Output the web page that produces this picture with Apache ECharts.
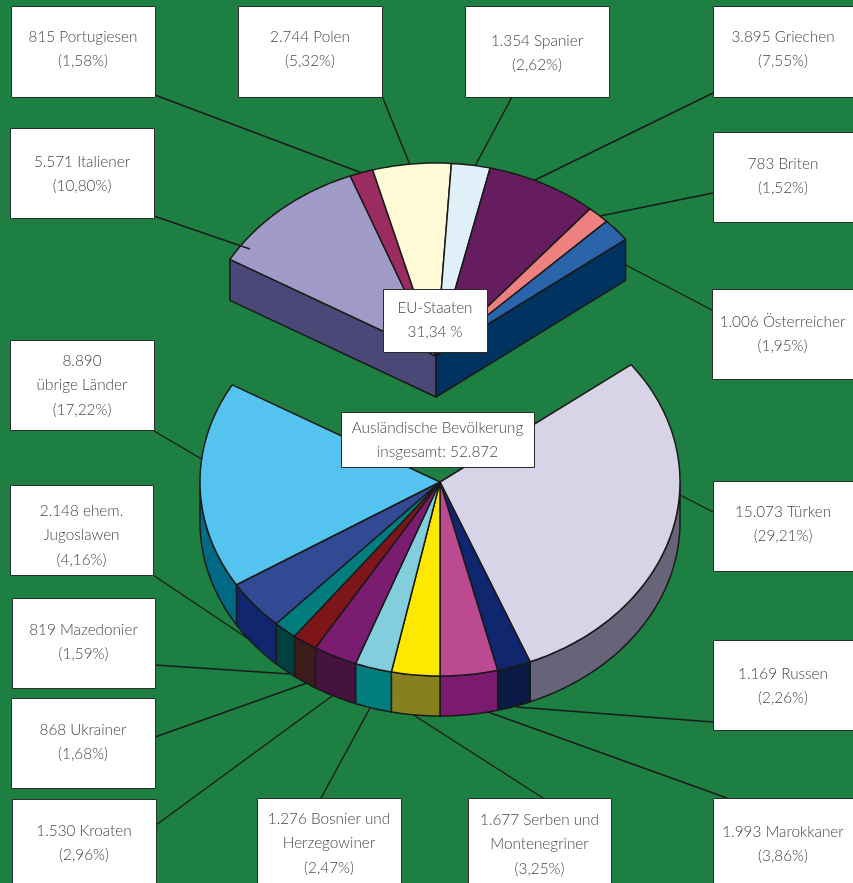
<!DOCTYPE html>
<html><head><meta charset="utf-8">
<style>html,body{margin:0;padding:0;background:#1E7F42}#c{width:853px;height:883px}</style>
<script src="https://cdn.jsdelivr.net/npm/echarts@6/dist/echarts.min.js"></script>
</head><body><div id="c"></div>
<script>
// ---- data ----
const euNames = ['Italiener','Portugiesen','Polen','Spanier','Griechen','Briten','Österreicher'];
const euValues = [5571,815,2744,1354,3895,783,1006];
const euPercents = ['10,80%','1,58%','5,32%','2,62%','7,55%','1,52%','1,95%'];
const restNames = ['Türken','Russen','Marokkaner','Serben und Montenegriner','Bosnier und Herzegowiner','Kroaten','Ukrainer','Mazedonier','ehem. Jugoslawen','übrige Länder'];
const restValues = [15073,1169,1993,1677,1276,1530,868,819,2148,8890];
const restPercents = ['29,21%','2,26%','3,86%','3,25%','2,47%','2,96%','1,68%','1,59%','4,16%','17,22%'];

// ---- label text ----
const euLabels = [
  ['5.571 Italiener','(10,80%)'],['815 Portugiesen','(1,58%)'],['2.744 Polen','(5,32%)'],
  ['1.354 Spanier','(2,62%)'],['3.895 Griechen','(7,55%)'],['783 Briten','(1,52%)'],
  ['1.006 Österreicher','(1,95%)']];
const restLabels = [
  ['15.073 Türken','(29,21%)'],['1.169 Russen','(2,26%)'],['1.993 Marokkaner','(3,86%)'],
  ['1.677 Serben und','Montenegriner','(3,25%)'],['1.276 Bosnier und','Herzegowiner','(2,47%)'],
  ['1.530 Kroaten','(2,96%)'],['868 Ukrainer','(1,68%)'],['819 Mazedonier','(1,59%)'],
  ['2.148 ehem.','Jugoslawen','(4,16%)'],['8.890','übrige Länder','(17,22%)']];
const euCaption = ['EU-Staaten','31,34 %'];
const totalCaption = ['Ausländische Bevölkerung','insgesamt: 52.872'];

// ---- styles ----
const euColors = ['#9F9AC6','#9B2C5F','#FFF9D6','#DFF0F8','#661D5F','#EF8080','#2A64AB'];
const euFlatLeft = '#4B4777', euFlatRight = '#003360';
const restColors = ['#D7D4E8','#10266E','#BB4A91','#FEE800','#82CEDD','#7A1C70','#7E1518','#007D7C','#324A94','#55C3F0'];
const restRims = ['#676378','#0A1A44','#7B1A6F','#878020','#007D7C','#46123F','#3D1C1C','#004040','#10266E','#006A84'];
const edge = '#1a1a1a', bg = '#1E7F42', ink = '#474747';
const FONT = 'Lato, "Noto Sans", sans-serif';

// ---- layout ----
const euPie = {cx:436, cy:356, rx:238, ry:193, depth:41};
const restPie = {cx:440, cy:482, rx:240, ry:194, depth:40};
// [x0,y0,x1,y1, y of first text line, line-end x, line-end y, line-start x, line-start y]
const euBoxes = [
  [10,128,154,218,162, 154,216,250,249],
  [11,6,155,97,37, 155,95,362,173],
  [238,6,382,97,37, 382,96,410,165],
  [465,6,609,97,41, 512,97,475,166],
  [713,6,860,97,37, 713,93,533,181],
  [713,132,860,222,164, 713,193,600,216],
  [712,289,860,379,322, 712,310,620,262]];
const restBoxes = [
  [713,481,860,571,512, 713,512,678,494],
  [713,640,860,730,674, 713,722,516,707],
  [713,798,860,890,832, 727,798,488,712],
  [468,798,611,890,820, 543,798,412,714],
  [257,798,401,890,819, 321,798,370,708],
  [12,799,156,890,831, 156,825,332,696],
  [11,698,155,788,730, 155,737,307,683],
  [12,598,155,688,630, 155,665,290,674],
  [10,485,153,575,511, 153,575,250,640],
  [10,340,154,430,361, 154,431,205,461]];
const euCaptionBox = [383,289,487,352,308];
const totalCaptionBox = [341,412,534,467,428];
const lineGap = 24.3;

// ---- geometry helpers ----
const grand = euValues.concat(restValues).reduce((a,b)=>a+b,0);
const sum = a => a.reduce((x,y)=>x+y,0);
const deg = v => v/grand*360;
// boundary between Marokkaner and Serben points straight down
const restStart = 90 - deg(restValues[0]+restValues[1]+restValues[2]);
const euStart = restStart - deg(sum(euValues));
const pt = (p,a,dy) => [p.cx+p.rx*Math.cos(a*Math.PI/180), p.cy+p.ry*Math.sin(a*Math.PI/180)+(dy||0)];
function arc(p,a0,a1,dy){const n=Math.max(2,Math.ceil(Math.abs(a1-a0)));const r=[];for(let i=0;i<=n;i++)r.push(pt(p,a0+(a1-a0)*i/n,dy));return r;}
const shape = (pts,fill) => ({type:'polygon',shape:{points:pts},style:{fill:fill,stroke:edge,lineWidth:1.5,lineJoin:'round'}});

function renderPie(p,values,start,colors,rims,flats){
  return function(params,api){
    const i=params.dataIndex, before=sum(values.slice(0,i));
    const a0=start+deg(before), a1=a0+deg(values[i]);
    const kids=[];
    if(flats&&i===0){
      const l=pt(p,start), r=pt(p,start+deg(sum(values))), c=[p.cx,p.cy], d=[p.cx,p.cy+p.depth];
      kids.push(shape([l,c,d,[l[0],l[1]+p.depth]],flats[0]));
      kids.push(shape([r,c,d,[r[0],r[1]+p.depth]],flats[1]));
    }
    if(rims){
      const s=Math.max(a0,0), e=Math.min(a1,180);
      if(e>s) kids.push(shape(arc(p,s,e,0).concat(arc(p,e,s,p.depth)),rims[i]));
    }
    kids.push(shape([[p.cx,p.cy]].concat(arc(p,a0,a1,0)),colors[i]));
    return {type:'group',children:kids};
  };
}

// ---- annotation boxes ----
const graphics=[{type:'rect',z:0,shape:{x:0,y:0,width:853,height:883},style:{fill:bg}}];
function addBox(b,lines,name){
  graphics.push({type:'rect',z:10,shape:{x:b[0]+.5,y:b[1]+.5,width:b[2]-b[0],height:b[3]-b[1]},
    style:{fill:'#fff',stroke:'#2b2b2b',lineWidth:1}});
  lines.forEach((t,k)=>graphics.push({type:'text',z:11,x:(b[0]+Math.min(b[2],853))/2,y:b[4]+k*lineGap,
    style:{text:t,fill:ink,font:'300 15.3px '+FONT,textAlign:'center',textVerticalAlign:'middle'}}));
}
function addLine(b,over){
  graphics.push({type:'line',z:over?6:1,shape:{x1:b[5],y1:b[6],x2:b[7],y2:b[8]},style:{stroke:edge,lineWidth:1.4}});
}
euBoxes.forEach((b,i)=>{addLine(b,i===0);addBox(b,euLabels[i]);});
restBoxes.forEach((b,i)=>{addLine(b,false);addBox(b,restLabels[i]);});
addBox(euCaptionBox,euCaption);
addBox(totalCaptionBox,totalCaption);

const toData=(names,values)=>names.map((n,i)=>({name:n,value:values[i]}));
const chart=echarts.init(document.getElementById('c'),null,{renderer:'canvas'});
chart.setOption({
  animation:false,
  backgroundColor:bg,
  graphic:{elements:graphics},
  series:[
    {type:'custom',name:'EU-Staaten',z:2,coordinateSystem:'none',silent:true,
     renderItem:renderPie(euPie,euValues,euStart,euColors,null,[euFlatLeft,euFlatRight]),
     data:toData(euNames,euValues)},
    {type:'custom',name:'Ausländische Bevölkerung',z:2,coordinateSystem:'none',silent:true,
     renderItem:renderPie(restPie,restValues,restStart,restColors,restRims,null),
     data:toData(restNames,restValues)}
  ]
});
</script></body></html>
